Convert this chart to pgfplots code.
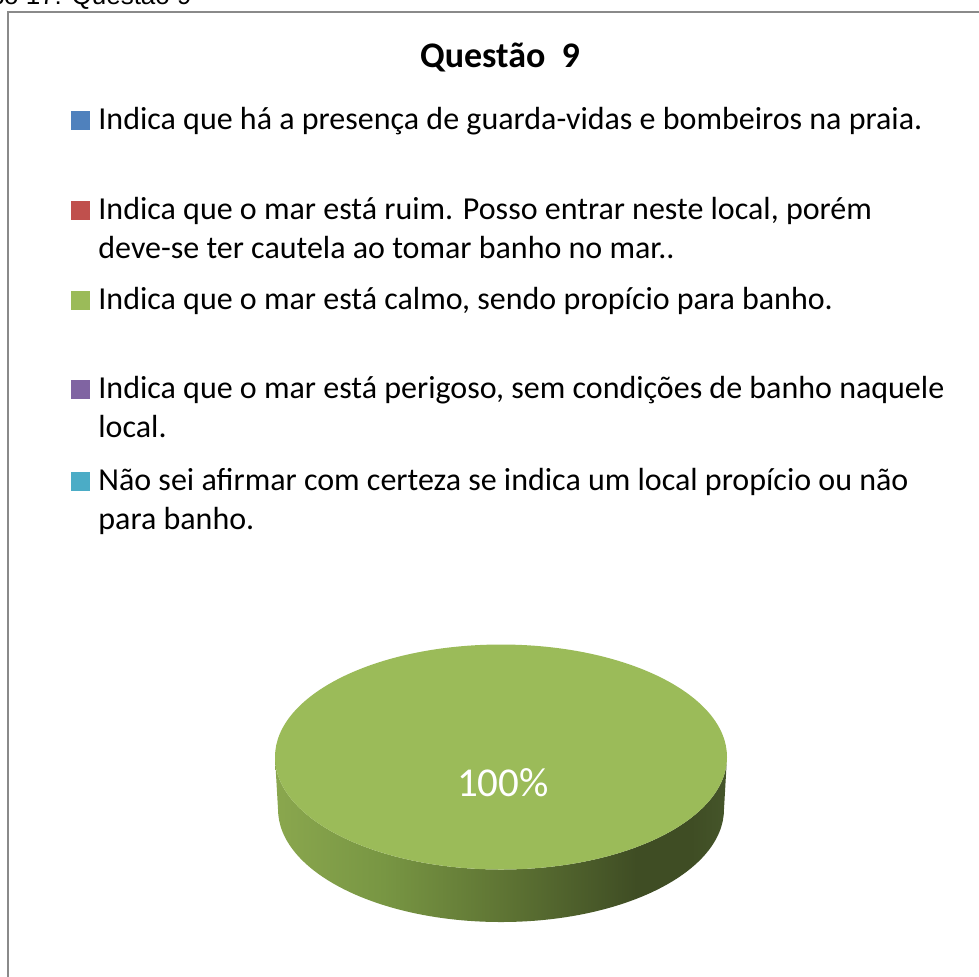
\documentclass[border=0pt]{standalone}
\usepackage{fontspec}
\setmainfont{Carlito}
\newfontfamily\arial{Liberation Sans}
\usepackage{pgfplots}
\usepackage{pgfplotstable}
\pgfplotsset{compat=1.18}
\definecolor{cblue}{HTML}{4F81BD}
\definecolor{cred}{HTML}{C0504D}
\definecolor{cgreen}{HTML}{9BBB59}
\definecolor{cpurple}{HTML}{8064A2}
\definecolor{ccyan}{HTML}{4BACC6}
\definecolor{framegray}{HTML}{8A8A8A}
\definecolor{s0}{HTML}{8AA74E}
\definecolor{s1}{HTML}{789643}
\definecolor{s2}{HTML}{5F7534}
\definecolor{s3}{HTML}{3F4D24}
\definecolor{s4}{HTML}{45552A}
\pgfdeclarehorizontalshading{pieside}{100bp}{color(0bp)=(s0); color(25bp)=(s0); color(37bp)=(s1); color(50bp)=(s2); color(65bp)=(s3); color(71bp)=(s3); color(75bp)=(s4); color(100bp)=(s4)}
\pgfplotstableread{
cat value
1 0
2 0
3 100
4 0
5 0
}\piedata
\pgfplotstablegetelem{2}{value}\of\piedata
\edef\pieval{\pgfplotsretval}
\begin{document}
\begin{tikzpicture}
\path[use as bounding box] (0,0) rectangle (489.5pt,488pt);
\clip (0,0) rectangle (489.5pt,488pt);
\begin{axis}[
  at={(0,0)}, anchor=south west,
  scale only axis, width=489.5pt, height=488pt,
  xmin=0, xmax=979, ymin=0, ymax=976, y dir=reverse,
  hide axis, clip=false,
  legend image code/.code={\fill[#1] (-0.5pt,-0.3pt) rectangle (9pt,9.2pt);},
  legend style={
    at={(axis description cs:0.07252,0.89037)}, anchor=north west,
    draw=none, fill=none, inner sep=0pt, row sep=0pt, column sep=4pt,
    cells={anchor=base west},
    nodes={inner sep=0pt, text depth={}, anchor=base west},
    font=\fontsize{16pt}{19.5pt}\selectfont,
  },
]
\addlegendimage{fill=cblue, draw=none}
\addlegendentry{\parbox[t]{445pt}{Indica que há a presença de guarda-vidas e bombeiros na praia.}\rule[-33.75pt]{0pt}{13pt}}
\addlegendimage{fill=cred, draw=none}
\addlegendentry{\parbox[t]{445pt}{Indica que o mar está ruim. Posso entrar neste local, porém\\deve-se ter cautela ao tomar banho no mar..}\rule[-33.75pt]{0pt}{13pt}}
\addlegendimage{fill=cgreen, draw=none}
\addlegendentry{\parbox[t]{445pt}{Indica que o mar está calmo, sendo propício para banho.}\rule[-33.75pt]{0pt}{13pt}}
\addlegendimage{fill=cpurple, draw=none}
\addlegendentry{\parbox[t]{445pt}{Indica que o mar está perigoso, sem condições de banho naquele\\local.}\rule[-34.5pt]{0pt}{13pt}}
\addlegendimage{fill=ccyan, draw=none}
\addlegendentry{\parbox[t]{445pt}{Não sei afirmar com certeza se indica um local propício ou não\\para banho.}\rule[-33.75pt]{0pt}{13pt}}
% frame
\draw[line width=1.4pt, framegray] (axis cs:8,1000) -- (axis cs:8,12) -- (axis cs:1000,12);
% caption above frame
\node[anchor=base east, inner sep=0pt, font=\arial\fontsize{13pt}{15pt}\selectfont] at (axis cs:192,4.5) {Gráfico 17: Questão 9};
% title
\node[anchor=base, inner sep=0pt, font=\fontsize{18pt}{22pt}\selectfont\bfseries] at (axis cs:500,67) {Questão\ \ 9};
% pie (single slice = 100%)
\shade[shading=pieside] (axis cs:275,757) arc[start angle=180, end angle=360, x radius=113pt, y radius=56.25pt]
   -- (axis cs:724,809) arc[start angle=0, end angle=-180, x radius=111.5pt, y radius=56.5pt] -- cycle;
\fill[cgreen] (axis cs:501,757) ellipse[x radius=113pt, y radius=56.25pt];
\node[anchor=base, inner sep=0pt, text=white, font=\fontsize{20.5pt}{24pt}\selectfont] at (axis cs:503,796) {\pieval\%};
\end{axis}
\end{tikzpicture}
\end{document}
